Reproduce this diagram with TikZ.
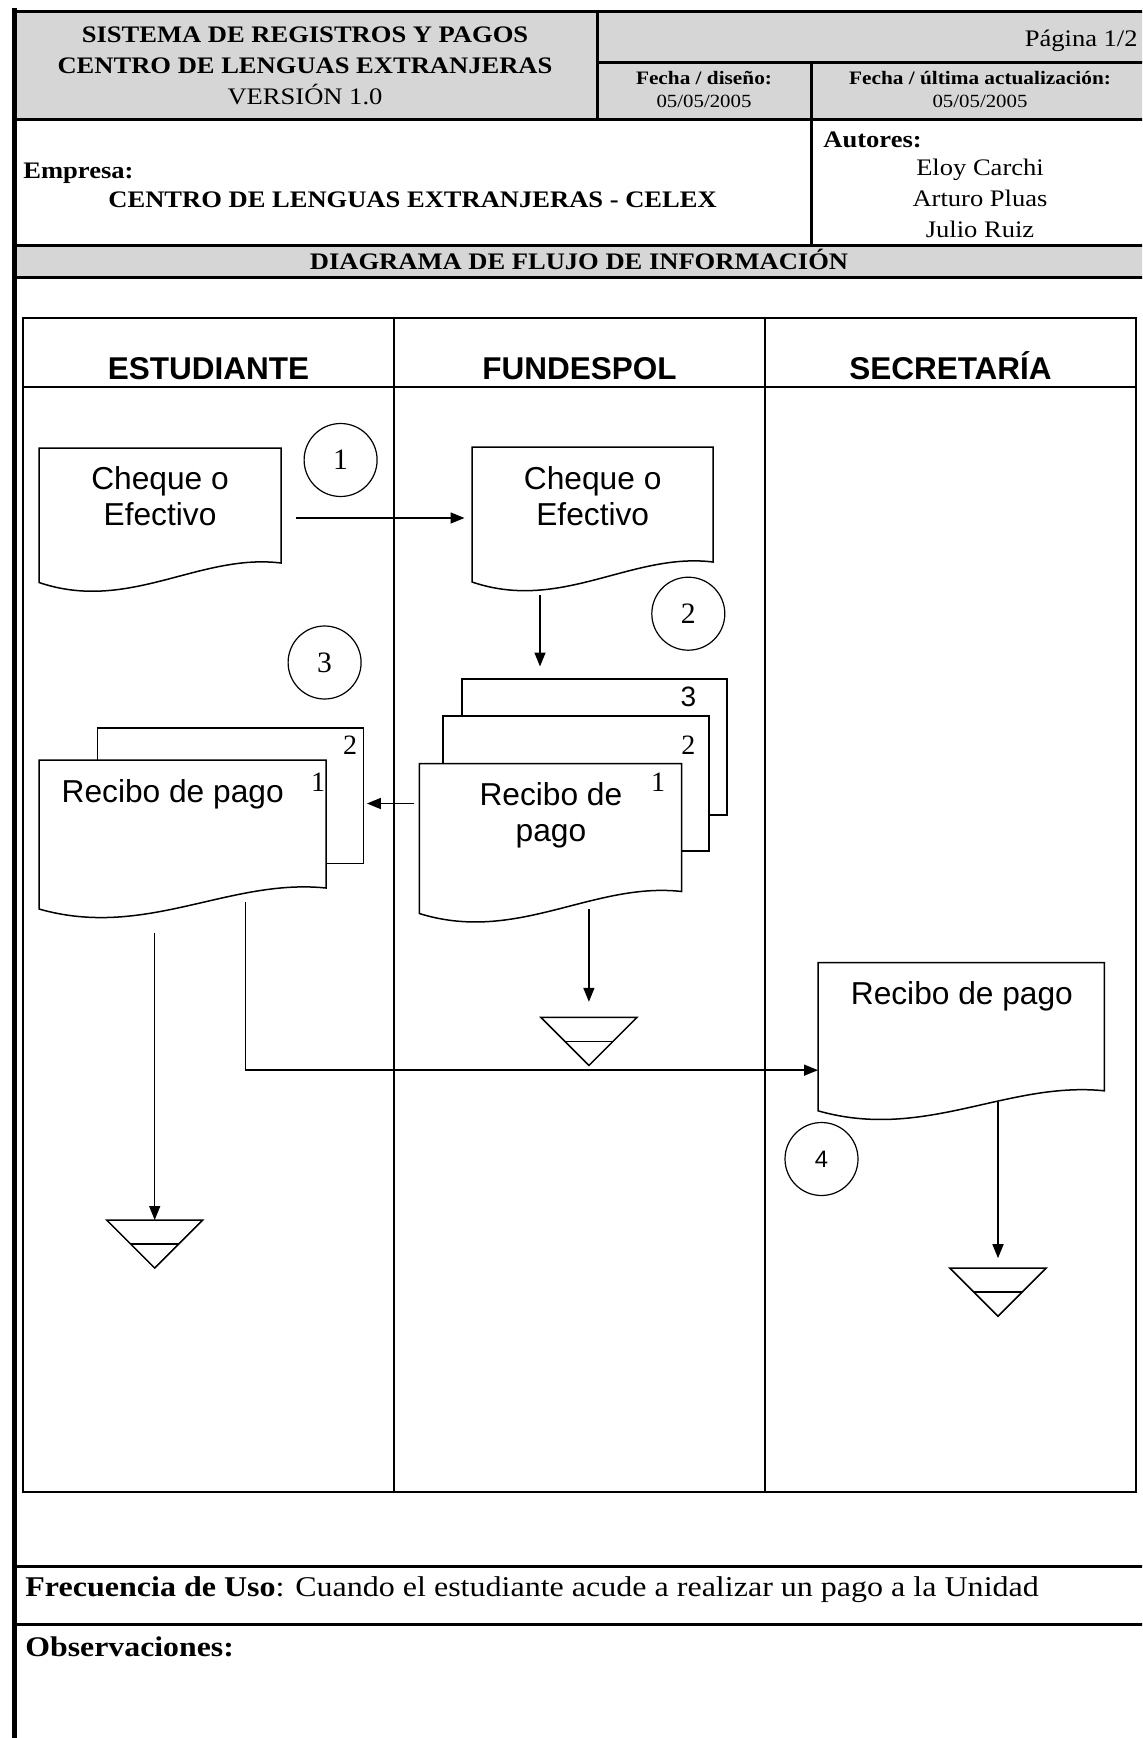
\documentclass[tikz,border=0pt]{standalone}
\usepackage{fontspec}
\setmainfont{Liberation Serif}
\newfontfamily\hdr{Liberation Serif}[FakeStretch=1.12]
\newfontfamily\tnr{Liberation Serif}
\newfontfamily\arial{Liberation Sans}
\usetikzlibrary{arrows.meta,calc}
\newcommand\setfs[1]{\fontsize{#1}{#1}\selectfont}
\definecolor{hdrgray}{gray}{0.84}
\tikzset{
 frameline/.style={line width=1.5pt},
 lanegrid/.style={line width=0.7pt},
 dline/.style={line width=0.75pt},
 arr/.style={line width=0.75pt,-{Triangle[length=7pt,width=5.5pt]}},
 page/.style={draw,line width=0.75pt,fill=white,inner sep=0,outer sep=0,anchor=north west},
 shapebox/.style={inner sep=0,outer sep=0,anchor=north west},
 trbox/.style={inner sep=0,outer sep=0,anchor=north,minimum width=48pt,minimum height=24pt},
 num/.style={circle,draw,line width=0.6pt,minimum size=36.5pt,inner sep=0,font=\tnr\setfs{14.8}},
 hb/.style={inner sep=0,anchor=base,font=\hdr\bfseries\setfs{11.85}},
 hr/.style={inner sep=0,anchor=base,font=\hdr\setfs{11.85}},
 sb/.style={inner sep=0,anchor=base,font=\hdr\bfseries\setfs{9.5}},
 sr/.style={inner sep=0,anchor=base,font=\hdr\setfs{9.3}},
 atxt/.style={inner sep=0,anchor=base,font=\arial\setfs{15.85}},
 lane/.style={inner sep=0,anchor=base,font=\arial\bfseries\setfs{15.75}},
 pn/.style={inner sep=0,anchor=base,font=\tnr\setfs{14}},
}
\newcommand\docshape[6]{%
 \node[shapebox,minimum width={#4*0.5pt},minimum height={#5*0.5pt}] (#1) at (#2,#3) {};
 \draw[dline,fill=white] (#1.north west) -- (#1.north east) -- (#1.south east)
   .. controls +({-0.339*#4},-10) and +({0.372*#4},30.5) .. ($(#1.north west)+(0,#6)$) -- cycle;}
\newcommand\trishape[1]{%
 \draw[dline] (#1.north west) -- (#1.north east) -- (#1.south) -- cycle;
 \draw[dline] ($(#1.north west)!0.5!(#1.south)$) -- ($(#1.north east)!0.5!(#1.south)$);}
\begin{document}
\begin{tikzpicture}[x=0.5pt,y=-0.5pt]
\useasboundingbox (0,0) rectangle (1142,1738);
\clip (0,0) rectangle (1142,1738);
% ---------- header ----------
\fill[hdrgray] (14,12) rectangle (1160,120);
\fill[hdrgray] (14,246) rectangle (1160,278);
\draw[frameline] (14,12) -- (1160,12);
\draw[frameline] (14,120) -- (1160,120);
\draw[frameline] (14,246) -- (1160,246);
\draw[frameline] (14,278) -- (1160,278);
\draw[frameline] (597,12) -- (597,120);
\draw[frameline] (597,63) -- (1160,63);
\draw[frameline] (811,63) -- (811,246);
\draw[frameline] (14,1566) -- (1160,1566);
\draw[frameline] (14,1624) -- (1160,1624);
\draw[line width=2.5pt] (14,8) -- (14,1750);

\node[hb] (tSis) at (305,43) {SISTEMA DE REGISTROS Y PAGOS};
\node[hb] (tCen) at (305,74) {CENTRO DE LENGUAS EXTRANJERAS};
\node[hr] (tVer) at (305,105) {VERSIÓN 1.0};
\node[hr,anchor=base east] (tPag) at (1138,47) {Página 1/2};
\node[sb] (tFd) at (704,84.3) {Fecha / diseño:};
\node[sr] (tFd2) at (704,108) {05/05/2005};
\node[sb] (tFu) at (980,84.3) {Fecha / última actualización:};
\node[sr] (tFu2) at (980,108) {05/05/2005};
\node[hb,anchor=base west] (tAut) at (823,148) {Autores:};
\node[hr] (tA1) at (980,176) {Eloy Carchi};
\node[hr] (tA2) at (980,207) {Arturo Pluas};
\node[hr] (tA3) at (980,238) {Julio Ruiz};
\node[hb,anchor=base west] (tEmp) at (23,179) {Empresa:};
\node[hb] (tCel) at (412.6,208) {CENTRO DE LENGUAS EXTRANJERAS - CELEX};
\node[hb] (tDia) at (579,270) {DIAGRAMA DE FLUJO DE INFORMACIÓN};

% ---------- swimlanes ----------
\draw[lanegrid] (23,318) rectangle (1136,1492);
\draw[lanegrid] (23,387) -- (1136,387);
\draw[lanegrid] (394,318) -- (394,1492);
\draw[lanegrid] (765,318) -- (765,1492);
\node[lane] (lEst) at (208.5,379.3) {ESTUDIANTE};
\node[lane] (lFun) at (579.5,379.3) {FUNDESPOL};
\node[lane] (lSec) at (950.5,379.3) {SECRETARÍA};

% ---------- documents ----------
\docshape{chqA}{39}{448}{242}{115}{134.5}
\node[atxt] (chqAt1) at (160,489.4) {Cheque o};
\node[atxt] (chqAt2) at (160,525.4) {Efectivo};

\docshape{chqB}{472}{447}{241}{115}{135}
\node[atxt] (chqBt1) at (592.7,489.4) {Cheque o};
\node[atxt] (chqBt2) at (592.7,525.4) {Efectivo};

% Estudiante receipt (2 copies)
\node[page,minimum width=133pt,minimum height=67.75pt] (recA2) at (97.4,728) {};
\node[pn] (recA2n) at (350,754.5) {2};
\docshape{recA1}{39}{760}{287}{128}{149}
\node[atxt] (recA1t) at (172.7,802.3) {Recibo de pago};
\node[pn] (recA1n) at (318,791.5) {1};

% Fundespol receipt (3 copies)
\node[page,minimum width=132.6pt,minimum height=68pt] (recB3) at (461.8,679) {};
\node[pn,font=\arial\setfs{14}] (recB3n) at (688.3,706) {3};
\node[page,minimum width=133pt,minimum height=67.4pt] (recB2) at (443,716) {};
\node[pn] (recB2n) at (688.3,754.5) {2};
\docshape{recB1}{419.3}{763.5}{262.4}{128}{150}
\node[atxt] (recB1t1) at (550.9,805) {Recibo de};
\node[atxt] (recB1t2) at (550.9,841) {pago};
\node[pn] (recB1n) at (658,791) {1};

% Secretaria receipt
\docshape{recC}{818}{962.5}{286.4}{128.3}{148.3}
\node[atxt] (recCt) at (961.9,1004) {Recibo de pago};

% ---------- archive triangles ----------
\node[trbox] (trA) at (154.7,1220) {};
\trishape{trA}
\node[trbox] (trB) at (588.9,1017.4) {};
\trishape{trB}
\node[trbox] (trC) at (998,1268.2) {};
\trishape{trC}

% ---------- step numbers ----------
\node[num] (c1) at (340.6,460) {1};
\node[num] (c2) at (688.3,613.7) {2};
\node[num] (c3) at (324.6,662.5) {3};
\node[num,font=\arial\setfs{11.9}] (c4) at (821.5,1159) {4};

% ---------- connectors ----------
\draw[arr] ($(chqA.east)+(15,12.5)$) -- ($(chqB.west |- chqA.east)+(-7.5,12.5)$);
\draw[arr] ($(chqB.south)+(-52.5,33)$) coordinate (a2) -- ($(a2 |- recB3.north)+(0,-12.5)$);
\draw[arr] ($(recB1.west)+(-5,-24)$) -- ($(recA2.east |- recB1.west)+(3.5,-24)$);
\draw[arr] ($(trA.north |- recA1.south)+(0,44.5)$) -- (trA.north);
\draw[arr] ($(recA1.south)+(63,14)$) |- ($(recC.west)+(0,43.5)$);
\draw[arr] ($(trB.north |- recB1.south)+(0,17.5)$) -- ($(trB.north)+(0,-15.6)$);
\draw[arr] ($(trC.north |- recC.south)+(0,11)$) -- ($(trC.north)+(0,-10)$);

% ---------- footer ----------
\node[inner sep=0,anchor=base west,font=\hdr\setfs{14.3}] (tFre) at (25,1596.5) {\textbf{Frecuencia de Uso}: Cuando el estudiante acude a realizar un pago a la Unidad};
\node[inner sep=0,anchor=base west,font=\hdr\bfseries\setfs{14.2}] (tObs) at (25,1656) {Observaciones:};
\end{tikzpicture}
\end{document}
